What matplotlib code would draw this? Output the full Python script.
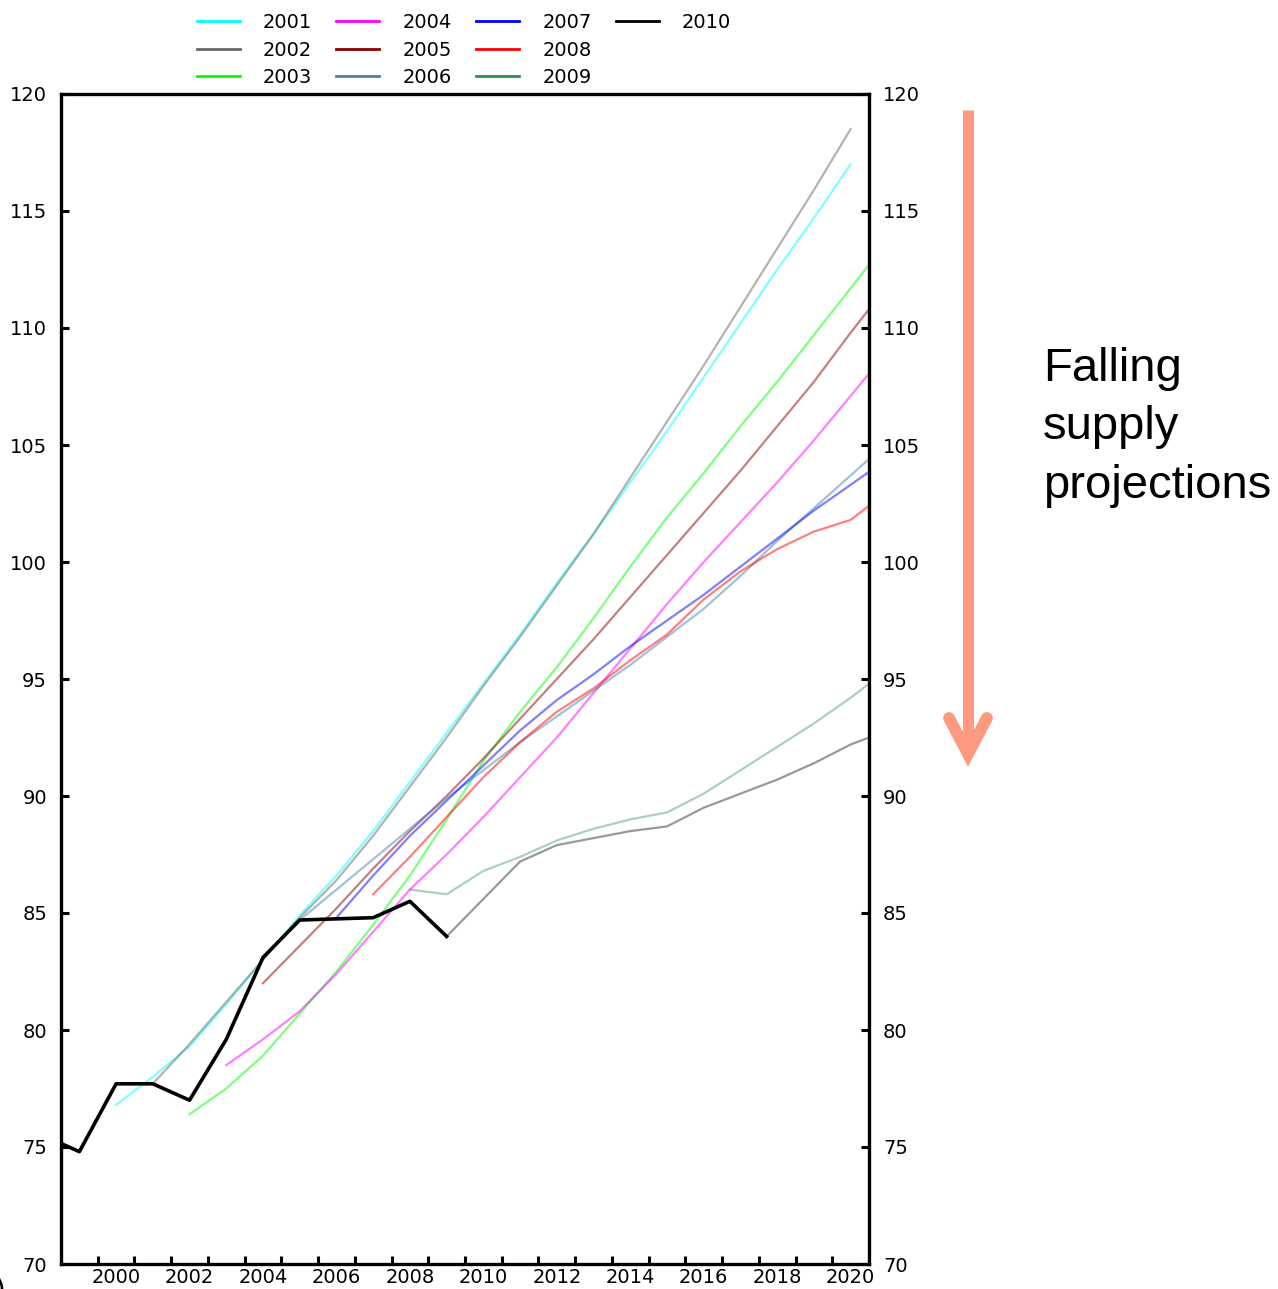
import numpy as np
import matplotlib
matplotlib.use('Agg')
import matplotlib.pyplot as plt
from matplotlib.lines import Line2D

# history (outturn)
hist_years = [1998, 1999, 2000, 2001, 2002, 2003, 2004, 2005, 2006, 2007, 2008, 2009]
hist_vals = [75.5, 74.8, 77.7, 77.7, 77.0, 79.6, 83.1, 84.7, 84.75, 84.8, 85.5, 84.0]

# projections by vintage: first year and yearly values
p2001_start = 2000
p2001 = [76.8, 78.0, 79.3, 81.1, 83.0, 84.9, 86.6, 88.5, 90.6, 92.7, 94.8, 96.9, 99.1,
         101.2, 103.4, 105.6, 107.9, 110.2, 112.5, 114.7, 117.0]
p2002_start = 2001
p2002 = [77.7, 79.4, 81.2, 83.0, 84.8, 86.4, 88.3, 90.4, 92.5, 94.7, 96.8, 99.0,
         101.2, 103.6, 106.0, 108.4, 110.9, 113.4, 115.9, 118.5]
p2003_start = 2002
p2003 = [76.4, 77.5, 78.9, 80.7, 82.5, 84.5, 86.6, 89.0, 91.5, 93.6, 95.5, 97.6, 99.8,
         101.9, 103.8, 105.8, 107.7, 109.7, 111.7, 113.7]
p2004_start = 2003
p2004 = [78.5, 79.6, 80.8, 82.4, 84.2, 86.0, 87.5, 89.1, 90.8, 92.5, 94.4, 96.3, 98.2,
         100.0, 101.7, 103.4, 105.2, 107.1, 109.0]
p2005_start = 2004
p2005 = [82.0, 83.6, 85.2, 86.9, 88.5, 90.0, 91.6, 93.3, 95.0, 96.7, 98.5, 100.3,
         102.1, 103.9, 105.8, 107.7, 109.8, 111.8]
p2006_start = 2005
p2006 = [84.7, 86.0, 87.3, 88.6, 89.9, 91.1, 92.3, 93.4, 94.5, 95.6, 96.8, 98.0,
         99.4, 100.9, 102.3, 103.7, 105.1]
p2007_start = 2006
p2007 = [84.8, 86.6, 88.3, 89.8, 91.3, 92.8, 94.1, 95.2, 96.4, 97.5, 98.6, 99.8,
         101.0, 102.2, 103.3, 104.4]
p2008_start = 2007
p2008 = [85.8, 87.4, 89.1, 90.8, 92.3, 93.6, 94.6, 95.8, 96.9, 98.4, 99.6, 100.55,
         101.3, 101.8, 103.0]
p2009_start = 2008
p2009 = [86.0, 85.8, 86.8, 87.4, 88.1, 88.6, 89.0, 89.3, 90.1, 91.1, 92.1, 93.1, 94.2, 95.4]
p2010_start = 2009
p2010 = [84.0, 85.6, 87.2, 87.9, 88.2, 88.5, 88.7, 89.5, 90.1, 90.7, 91.4, 92.2, 92.8]

vintages = ['2001', '2002', '2003', '2004', '2005', '2006', '2007', '2008', '2009', '2010']
starts = [p2001_start, p2002_start, p2003_start, p2004_start, p2005_start,
          p2006_start, p2007_start, p2008_start, p2009_start, p2010_start]
series = [p2001, p2002, p2003, p2004, p2005, p2006, p2007, p2008, p2009, p2010]
colors = ['cyan', 'dimgray', 'lime', 'magenta', 'darkred', 'steelblue',
          'blue', 'red', 'seagreen', 'black']

fig = plt.figure(figsize=(12.78, 12.89), dpi=100)
ax = fig.add_axes([61/1278, 25/1289, 808/1278, 1170/1289])

for v, s, vals, c in zip(vintages, starts, series, colors):
    yrs = np.arange(s, s + len(vals))
    a = 0.4 if c in ('seagreen', 'black') else 0.5
    ax.plot(yrs, vals, color=c, lw=1.6, alpha=a)

ax.plot(hist_years, hist_vals, color='black', lw=2.6)

ax.set_xlim(1998.5, 2020.5)
ax.set_ylim(70, 120)
ax.set_yticks(np.arange(70, 121, 5))
ax.set_xticks(np.arange(1999.5, 2020, 1))
ax.set_xticklabels([])
ax.set_xticks(np.arange(2000, 2021, 2), minor=True)
ax.set_xticklabels([str(y) for y in range(2000, 2021, 2)], minor=True)
ax.tick_params(axis='x', which='major', direction='in', length=6, width=2.2)
ax.tick_params(axis='x', which='minor', length=0, labelsize=14, pad=3)
ax.tick_params(axis='y', direction='in', length=6, width=2.2, labelsize=14,
               left=True, right=True, labelleft=True, labelright=True, pad=10)
for sp in ax.spines.values():
    sp.set_linewidth(2.4)

handles = [Line2D([], [], color=c, lw=2) for c in colors]
labels = list(vintages)
handles += [Line2D([], [], color='none'), Line2D([], [], color='none')]
labels += ['', '']
fig.legend(handles, labels, ncol=4, loc='upper left', bbox_to_anchor=(189/1278, 1 - 5/1289),
           frameon=False, fontsize=14, handlelength=2.2, handletextpad=1.2,
           columnspacing=1.25, labelspacing=0.45, borderaxespad=0)

fig.text(1043/1278, 1 - 347/1289, 'Falling\nsupply\nprojections', fontsize=34,
         family='Liberation Sans', va='top', ha='left', linespacing=1.42)

acol = '#FF9A80'
fig.add_artist(Line2D([968/1278, 968/1278], [1 - 110/1289, 1 - 752/1289],
                      transform=fig.transFigure, color=acol, lw=8, solid_capstyle='butt'))
fig.add_artist(Line2D([949/1278, 968/1278, 987/1278],
                      [1 - 718/1289, 1 - 754/1289, 1 - 718/1289],
                      transform=fig.transFigure, color=acol, lw=8.5,
                      solid_capstyle='round', solid_joinstyle='miter'))

fig.text(-0.017, 1 - 1276/1289, 'a)', fontsize=20, va='top', ha='left')

fig.savefig('out.png', dpi=100)
